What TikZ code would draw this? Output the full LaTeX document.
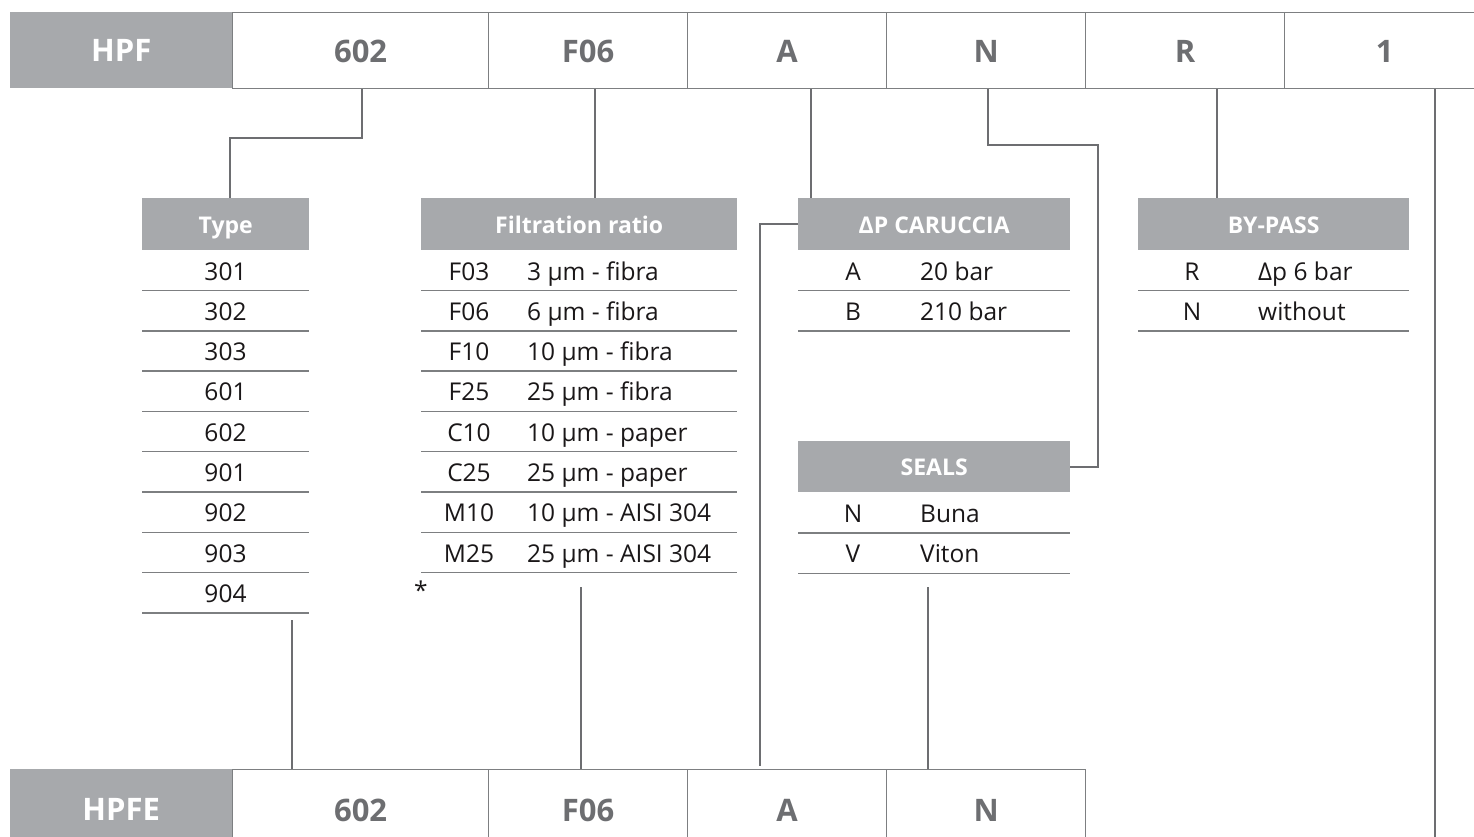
\documentclass[tikz,border=0pt]{standalone}
\usepackage{fontspec}
\setmainfont{Open Sans}
\definecolor{hdr}{HTML}{A7A9AC}
\definecolor{codetxt}{HTML}{6D6E71}
\definecolor{conncol}{HTML}{6D6E71}
\definecolor{rulecol}{HTML}{7D7F81}
\definecolor{rowtxt}{HTML}{1A1718}
\tikzset{
  topgrey/.style={fill=hdr, draw=none, inner sep=0, anchor=north west, minimum height=76, minimum width=222, text=white, text height=23, text depth=0, font=\fontsize{31}{36}\selectfont\bfseries},
  codecell/.style={draw=rulecol, line width=1.2, inner sep=0, anchor=north west, minimum height=76, text=codetxt, text height=23, text depth=0, font=\fontsize{31}{36}\selectfont\bfseries},
  tabhead/.style={fill=hdr, draw=none, inner sep=0, anchor=north west, minimum height=52, text=white, text height=20, text depth=2, font=\fontsize{23}{28}\selectfont\bfseries},
  rowtext/.style={inner sep=0, text=rowtxt, text height=21, text depth=3, font=\fontsize{24.5}{29}\selectfont},
  rowrule/.style={draw=rulecol, line width=1.4},
  conn/.style={draw=conncol, line width=2}
}
\begin{document}
\begin{tikzpicture}[x=1pt,y=-1pt]
\useasboundingbox (0,0) rectangle (1474,837);
% top row
\node[topgrey] (hpf) at (10,12) {HPF};
\node[codecell, minimum width=256] (c602) at (232,12) {602};
\node[codecell, minimum width=199] (cF06) at (488,12) {F06};
\node[codecell, minimum width=199] (cA) at (687,12) {A};
\node[codecell, minimum width=199] (cN) at (886,12) {N};
\node[codecell, minimum width=199] (cR) at (1085,12) {R};
\node[codecell, minimum width=200] (c1) at (1284,12) {1};
% bottom row
\node[topgrey, minimum height=80] (hpfe) at (10,769) {HPFE};
\node[codecell, minimum width=256, minimum height=80] (b602) at (232,769) {602};
\node[codecell, minimum width=199, minimum height=80] (bF06) at (488,769) {F06};
\node[codecell, minimum width=199, minimum height=80] (bA) at (687,769) {A};
\node[codecell, minimum width=199, minimum height=80] (bN) at (886,769) {N};
% Type table
\node[tabhead, minimum width=167] (typeh) at (142,198) {Type};
\foreach \t [count=\i from 0] in {301,302,303,601,602,901,902,903,904} {
  \node[rowtext] (type\i) at (225.5,{271+40.3*\i}) {\t};
  \draw[rowrule] (142,{290.5+40.3*\i}) -- (309,{290.5+40.3*\i});
}
% Filtration table
\node[tabhead, minimum width=316] (filh) at (421,198) {Filtration ratio};
\foreach \c/\d [count=\i from 0] in {F03/3 µm - fibra,F06/6 µm - fibra,F10/10 µm - fibra,F25/25 µm - fibra,C10/10 µm - paper,C25/25 µm - paper,M10/10 µm - AISI 304,M25/25 µm - AISI 304} {
  \node[rowtext] (filc\i) at (469,{271+40.3*\i}) {\c};
  \node[rowtext, anchor=west] (fild\i) at (527,{271+40.3*\i}) {\d};
  \draw[rowrule] (421,{290.5+40.3*\i}) -- (737,{290.5+40.3*\i});
}
\node[rowtext] (star) at (421,590) {*};
% Delta P table
\node[tabhead, minimum width=272] (dph) at (798,198) {ΔP CARUCCIA};
\foreach \c/\d [count=\i from 0] in {A/20 bar,B/210 bar} {
  \node[rowtext] (dpc\i) at (853,{271+40.3*\i}) {\c};
  \node[rowtext, anchor=west] (dpd\i) at (920,{271+40.3*\i}) {\d};
  \draw[rowrule] (798,{290.5+40.3*\i}) -- (1070,{290.5+40.3*\i});
}
% By-pass table
\node[tabhead, minimum width=271] (byh) at (1138,198) {BY-PASS};
\foreach \c/\d [count=\i from 0] in {R/Δp 6 bar,N/without} {
  \node[rowtext] (byc\i) at (1192,{271+40.3*\i}) {\c};
  \node[rowtext, anchor=west] (byd\i) at (1258,{271+40.3*\i}) {\d};
  \draw[rowrule] (1138,{290.5+40.3*\i}) -- (1409,{290.5+40.3*\i});
}
% Seals table
\node[tabhead, minimum width=272, minimum height=51] (sealh) at (798,441) {SEALS};
\foreach \c/\d [count=\i from 0] in {N/Buna,V/Viton} {
  \node[rowtext] (sec\i) at (853,{513.5+40.3*\i}) {\c};
  \node[rowtext, anchor=west] (sed\i) at (920,{513.5+40.3*\i}) {\d};
  \draw[rowrule] (798,{533+40.3*\i}) -- (1070,{533+40.3*\i});
}
% free ends
\coordinate (typeend) at (292,620);
\coordinate (filend) at (581,587);
\coordinate (sealend) at (928,587);
\coordinate (oneend) at (1435,837);
% connectors from top row
\draw[conn] ([xshift=1.5]c602.south) -- ++(0,49) -| ([xshift=4.5]typeh.north);
\draw[conn] ([xshift=6.5]cF06.south) -- ([xshift=6.5]cF06.south |- filh.north);
\draw[conn] ([xshift=23.5]cA.south) -- ([xshift=23.5]cA.south |- dph.north);
\draw[conn] ([xshift=1.5]cN.south) -- ++(0,56) -| ([xshift=28]sealh.east) -- (sealh.east);
\draw[conn] ([xshift=31.5]cR.south) -- ([xshift=31.5]cR.south |- byh.north);
\draw[conn] (oneend |- c1.south) -- (oneend);
% connectors to bottom row
\draw[conn] (typeend) -- (typeend |- b602.north);
\draw[conn] (filend) -- (filend |- bF06.north);
\draw[conn] (dph.west) -- ++(-38,0) coordinate (dpbend) -- ([yshift=3]dpbend |- bA.north);
\draw[conn] (sealend) -- (sealend |- bN.north);
\end{tikzpicture}
\end{document}
